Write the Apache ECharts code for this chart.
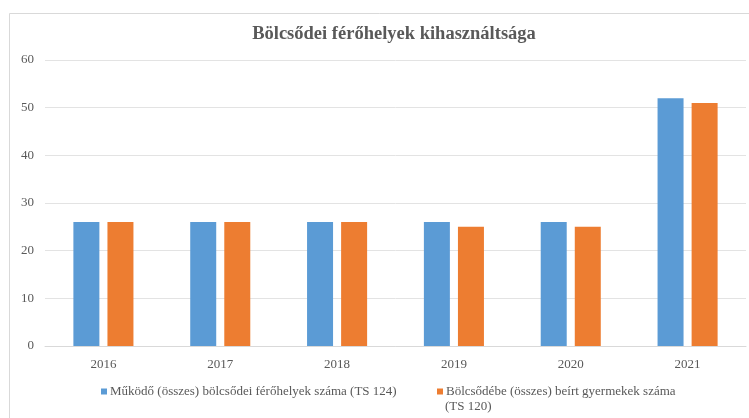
<!DOCTYPE html>
<html>
<head>
<meta charset="utf-8">
<script src="https://cdn.jsdelivr.net/npm/echarts@6/dist/echarts.min.js"></script>
<style>
  html, body { margin: 0; padding: 0; background: #fff; }
  #chart { width: 749px; height: 418px; }
</style>
</head>
<body>
<div id="chart"></div>
<script>
const years = ["2016", "2017", "2018", "2019", "2020", "2021"];
const placesName = "Működő (összes) bölcsődei férőhelyek száma (TS 124)";
const placesValues = [26, 26, 26, 26, 26, 52];
const enrolledName = "Bölcsődébe (összes) beírt gyermekek száma (TS 120)";
const enrolledValues = [26, 26, 26, 25, 25, 51];
const yTicks = [0, 10, 20, 30, 40, 50, 60];

const serif = "'Liberation Serif', 'Times New Roman', serif";
const grey = "#595959";

// the second legend entry wraps in the original; its tail goes on a line of its own
const cut = enrolledName.indexOf(" (TS");
const enrolledHead = enrolledName.slice(0, cut);
const enrolledTail = enrolledName.slice(cut + 1);

const chart = echarts.init(document.getElementById("chart"), null, { renderer: "canvas" });
chart.setOption({
  animation: false,
  backgroundColor: "#fff",
  graphic: [
    { type: "rect", left: 7, top: 11, silent: true,
      shape: { x: 0, y: 0, width: 800, height: 500 },
      style: { fill: "none", stroke: "#d9d9d9", lineWidth: 1 } },
    { type: "text", left: 445, top: 400, silent: true,
      style: { text: enrolledTail, fontFamily: serif, fontSize: 13, fill: grey } }
  ],
  title: {
    text: "Bölcsődei férőhelyek kihasználtsága",
    left: 389, top: 20, textAlign: "center",
    textStyle: { fontFamily: serif, fontSize: 18.5, fontWeight: "bold", color: grey }
  },
  grid: { left: 45, right: 3, top: 60, bottom: 72 },
  legend: [
    {
      data: [placesName], left: 96, top: 380, icon: "rect", itemWidth: 6, itemHeight: 6,
      textStyle: { fontFamily: serif, fontSize: 13, color: grey, padding: [0, 0, 0, -2] }
    },
    {
      data: [enrolledName], left: 432, top: 380, icon: "rect", itemWidth: 6, itemHeight: 6,
      formatter: () => enrolledHead,
      textStyle: { fontFamily: serif, fontSize: 13, color: grey, padding: [0, 0, 0, -2] }
    }
  ],
  xAxis: {
    type: "category", data: years,
    axisLine: { lineStyle: { color: "#d9d9d9" } },
    axisTick: { show: false },
    axisLabel: { fontFamily: serif, fontSize: 13, color: grey, margin: 12 }
  },
  yAxis: {
    type: "value", min: yTicks[0], max: yTicks[yTicks.length - 1], interval: 10,
    axisLine: { show: false }, axisTick: { show: false },
    axisLabel: { fontFamily: serif, fontSize: 13, color: grey, margin: 11 },
    splitLine: { lineStyle: { color: "#e3e3e3" } }
  },
  series: [
    { name: placesName, type: "bar", data: placesValues, barWidth: 26, barGap: "31%",
      itemStyle: { color: "#5b9bd5" } },
    { name: enrolledName, type: "bar", data: enrolledValues, barWidth: 26,
      itemStyle: { color: "#ed7d31" } }
  ]
});
</script>
</body>
</html>
